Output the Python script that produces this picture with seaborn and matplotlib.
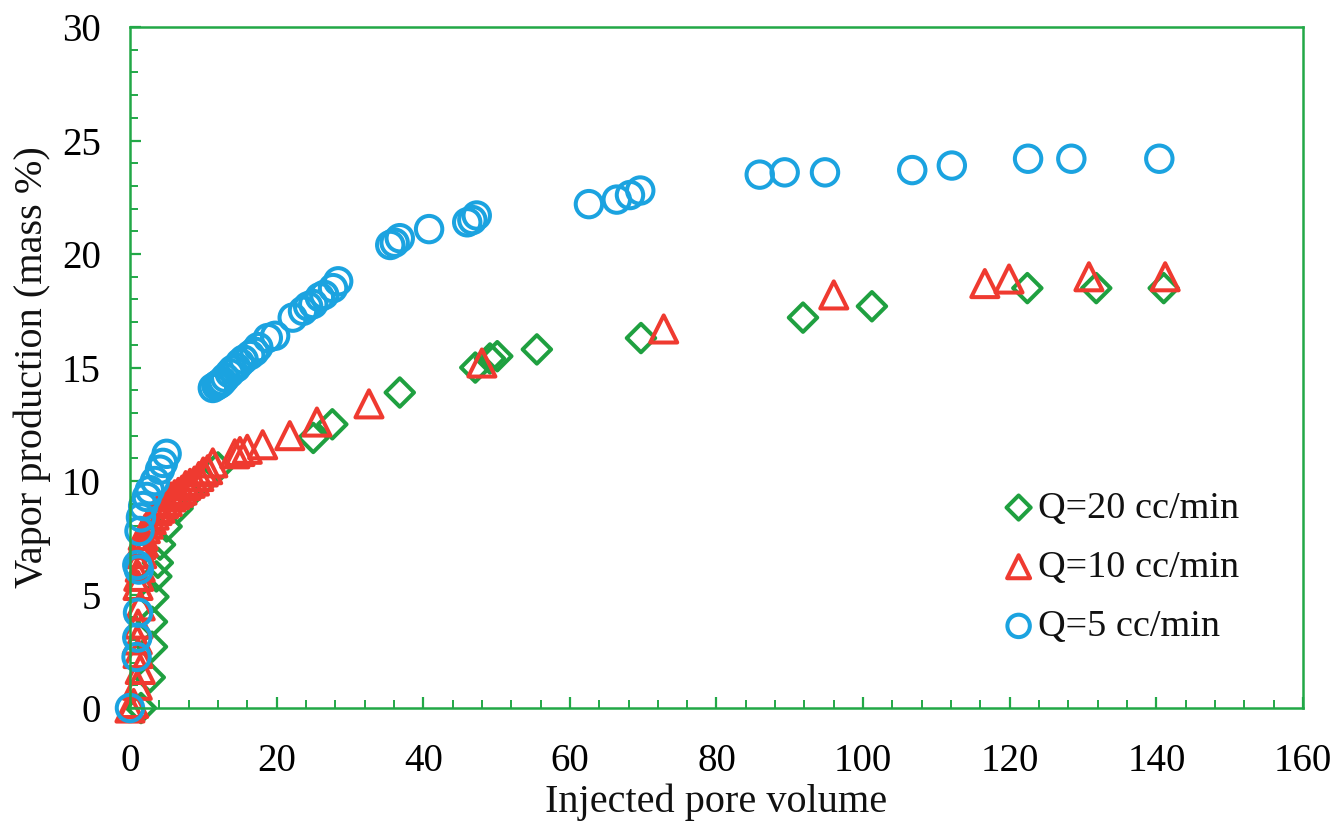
import matplotlib
matplotlib.use("Agg")
import matplotlib.pyplot as plt
import seaborn as sns
from matplotlib.ticker import MultipleLocator

# Q = 20 cc/min
q20_x = [1.5, 2.7, 3.0, 3.0, 3.2, 3.6, 3.8, 4.1, 5.0, 6.5, 8.0, 10.0, 12.0,
         25.0, 27.6, 36.8, 47.1, 49.1, 50.1, 55.5, 69.7, 91.8, 101.2,
         122.4, 131.8, 141.0]
q20_y = [0.0, 1.35, 2.7, 3.8, 4.9, 5.8, 6.4, 7.2, 8.0, 8.8, 9.4, 10.0, 10.6,
         11.9, 12.5, 13.9, 15.0, 15.4, 15.5, 15.8, 16.3, 17.2, 17.7,
         18.5, 18.5, 18.5]

# Q = 10 cc/min
q10_x = [0.0, 0.5, 1.0, 1.4, 1.1, 1.0, 1.1, 1.4, 1.1, 1.2, 1.4, 1.6, 1.8,
         1.5, 1.8, 2.1, 2.5, 2.9, 3.3, 3.7, 4.1, 4.6, 5.1, 5.6, 6.1, 6.6,
         7.1, 7.6, 8.2, 8.8, 9.4, 10.0, 10.6, 11.3,
         14.3, 15.0, 16.0, 18.1, 21.8, 25.5, 32.6, 48.0, 72.8, 96.0,
         116.6, 119.9, 130.8, 141.2]
q10_y = [0.0, 0.2, 1.0, 1.7, 2.4, 3.0, 3.7, 4.5, 5.4, 5.8, 6.2, 6.8, 7.3,
         7.2, 7.6, 7.9, 8.1, 8.3, 8.5, 8.7, 8.8, 9.0, 9.1, 9.3, 9.4, 9.5,
         9.6, 9.8, 9.9, 10.0, 10.2, 10.4, 10.5, 10.8,
         11.2, 11.3, 11.4, 11.6, 12.0, 12.6, 13.4, 15.2, 16.7, 18.2,
         18.7, 18.9, 19.0, 19.0]

# Q = 5 cc/min
q5_x = [0.0, 0.9, 1.0, 1.1, 1.2, 1.0, 1.3, 1.5, 1.8, 2.3, 2.7, 3.4, 4.1,
        4.5, 5.0,
        11.3, 11.8, 12.0, 12.3, 12.6, 13.0, 13.6, 14.0, 14.5, 15.0, 15.5,
        16.4, 17.0, 17.5, 18.8, 19.8, 22.2, 23.6, 24.3, 25.0, 25.9, 26.5,
        27.7, 28.4,
        35.5, 36.1, 36.8, 40.8, 46.0, 46.7, 47.3, 62.6, 66.4, 68.2, 69.6,
        85.9, 89.3, 94.8, 106.7, 112.1, 122.5, 128.4, 140.4]
q5_y = [0.0, 2.25, 3.1, 4.2, 6.1, 6.3, 7.8, 8.4, 8.9, 9.3, 9.6, 10.0, 10.5,
        10.8, 11.2,
        14.1, 14.2, 14.25, 14.3, 14.4, 14.55, 14.75, 14.9, 15.0, 15.2, 15.35,
        15.55, 15.7, 15.9, 16.3, 16.4, 17.2, 17.5, 17.7, 17.8, 18.1, 18.2,
        18.5, 18.8,
        20.4, 20.5, 20.7, 21.1, 21.4, 21.5, 21.7, 22.2, 22.4, 22.6, 22.8,
        23.5, 23.6, 23.6, 23.7, 23.9, 24.2, 24.2, 24.2]

GREEN = "#1fa040"
RED = "#ef3a30"
BLUE = "#1ba3e0"
AXIS_GREEN = "#22a847"

sns.set_theme(style="ticks")
plt.rcParams["font.family"] = ["Liberation Serif", "DejaVu Serif"]

fig, ax = plt.subplots(figsize=(13.33, 8.21), dpi=100)
fig.subplots_adjust(left=0.0975, right=0.9775, bottom=0.1376, top=0.967)

common = dict(fc="none", linewidth=2.9, clip_on=False, ax=ax)
sns.scatterplot(x=q20_x, y=q20_y, marker="D", s=14.5 ** 2, ec=GREEN,
                label="Q=20 cc/min", **common)
sns.scatterplot(x=q10_x, y=q10_y, marker="^", s=19.5 ** 2, ec=RED,
                label="Q=10 cc/min", **common)
sns.scatterplot(x=q5_x, y=q5_y, marker="o", s=19 ** 2, ec=BLUE,
                label="Q=5 cc/min", **common)

ax.set_xlim(0, 160)
ax.set_ylim(0, 30)
ax.xaxis.set_major_locator(MultipleLocator(20))
ax.xaxis.set_minor_locator(MultipleLocator(4))
ax.yaxis.set_major_locator(MultipleLocator(5))
ax.yaxis.set_minor_locator(MultipleLocator(1))

for spine in ax.spines.values():
    spine.set_color(AXIS_GREEN)
    spine.set_linewidth(1.8)

ax.tick_params(which="both", direction="in", color=AXIS_GREEN,
               top=False, right=False, labelsize=28, labelcolor="black")
ax.tick_params(axis="x", which="major", length=8, width=1.6, pad=25)
ax.tick_params(axis="y", which="major", length=8, width=1.6, pad=21)
ax.tick_params(which="minor", length=6, width=1.4)

ax.set_xlabel("Injected pore volume", fontsize=29, color="#111111", labelpad=3)
ax.set_ylabel("Vapor production (mass %)", fontsize=29, color="#111111",
              labelpad=8)

ax.legend(loc="upper left", bbox_to_anchor=(0.725, 0.347), frameon=False,
          fontsize=27.5, markerscale=0.85, handletextpad=0.0,
          handlelength=1.0, labelspacing=0.64, borderpad=0,
          labelcolor="#111111")

fig.savefig("out.png", dpi=100)
